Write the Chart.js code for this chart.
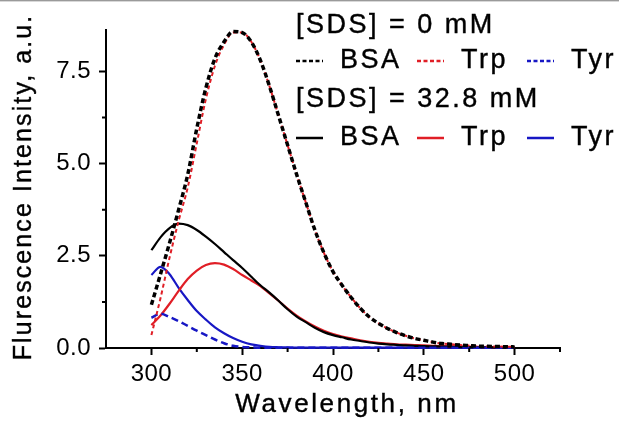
<!DOCTYPE html>
<html>
<head>
<meta charset="utf-8">
<script src="https://cdn.jsdelivr.net/npm/chart.js@4.4.1/dist/chart.umd.min.js"></script>
<style>
  html, body { margin: 0; padding: 0; background: #fff; }
  #wrap { position: relative; width: 619px; height: 425px; }
  #topline { position: absolute; left: 0; top: 0; width: 619px; height: 1px; background: #9a9a9a; border-bottom: 1px solid #d8d8d8; }
</style>
</head>
<body>
<div id="wrap">
  <canvas id="grafico" width="619" height="425"></canvas>
  <div id="topline"></div>
</div>
<script>
const wavelengths = [300, 305, 310, 315, 320, 325, 330, 335, 340, 345, 350, 355, 360, 365, 370, 375, 380, 385, 390, 395,
  400, 405, 410, 415, 420, 425, 430, 435, 440, 445, 450, 455, 460, 465, 470, 475, 480, 485, 490, 495, 500];

// [SDS] = 0 mM
const bsa0 = [1.17, 2.0, 2.85, 3.75, 4.7, 5.95, 7.05, 7.85, 8.3, 8.58, 8.55, 8.3, 7.8, 7.1, 6.3, 5.5, 4.7, 3.95, 3.2, 2.58,
  2.07, 1.7, 1.37, 1.08, 0.84, 0.67, 0.53, 0.42, 0.33, 0.26, 0.21, 0.16, 0.12, 0.1, 0.08, 0.065, 0.05, 0.045, 0.04, 0.035, 0.03];
const trp0 = [0.35, 1.35, 2.45, 3.45, 4.35, 5.55, 6.75, 7.65, 8.22, 8.55, 8.55, 8.3, 7.8, 7.1, 6.3, 5.5, 4.7, 3.95, 3.2, 2.58,
  2.07, 1.7, 1.37, 1.08, 0.84, 0.67, 0.53, 0.42, 0.33, 0.26, 0.21, 0.16, 0.12, 0.1, 0.08, 0.065, 0.05, 0.045, 0.04, 0.035, 0.03];
const tyr0 = [0.82, 0.93, 0.84, 0.73, 0.6, 0.47, 0.35, 0.23, 0.13, 0.06, 0.03, 0.02, 0.01, 0.01, 0.01, 0.01, 0.01, 0.01, 0.01, 0.01,
  0.01, 0.01, 0.01, 0.01, 0.01, 0.01, 0.01, 0.01, 0.01, 0.01, 0.01, 0.01, 0.01, 0.01, 0.01, 0.01, 0.01, 0.01, 0.01, 0.01, 0.01];

// [SDS] = 32.8 mM
const bsa1 = [2.65, 3.0, 3.25, 3.37, 3.33, 3.2, 3.02, 2.82, 2.6, 2.38, 2.17, 1.93, 1.7, 1.5, 1.28, 1.05, 0.85, 0.7, 0.55, 0.43,
  0.35, 0.29, 0.23, 0.19, 0.15, 0.12, 0.1, 0.085, 0.07, 0.06, 0.05, 0.045, 0.04, 0.035, 0.03, 0.025, 0.02, 0.02, 0.015, 0.01, 0.01];
const trp1 = [0.62, 0.88, 1.2, 1.55, 1.87, 2.1, 2.25, 2.3, 2.26, 2.14, 1.98, 1.83, 1.68, 1.48, 1.28, 1.07, 0.88, 0.72, 0.58, 0.47,
  0.38, 0.31, 0.26, 0.21, 0.17, 0.14, 0.12, 0.1, 0.09, 0.08, 0.07, 0.06, 0.05, 0.045, 0.04, 0.035, 0.03, 0.025, 0.02, 0.02, 0.02];
const tyr1 = [1.98, 2.2, 2.0, 1.63, 1.3, 1.0, 0.77, 0.56, 0.4, 0.27, 0.17, 0.1, 0.06, 0.03, 0.02, 0.015, 0.01, 0.01, 0.01, 0.01,
  0.01, 0.01, 0.01, 0.01, 0.01, 0.01, 0.01, 0.01, 0.01, 0.01, 0.01, 0.01, 0.01, 0.01, 0.01, 0.01, 0.01, 0.01, 0.01, 0.01, 0.01];

const groupTitles = ["[SDS] = 0 mM", "[SDS] = 32.8 mM"];
const seriesNames = ["BSA", "Trp", "Tyr"];
const xTitle = "Wavelength, nm";
const yTitle = "Flurescence Intensity, a.u.";
const xTicks = [300, 350, 400, 450, 500];
const xMinor = [325, 375, 425, 475, 525];
const yTicks = [0, 2.5, 5, 7.5];
const yMinor = [1.25, 3.75, 6.25];

const fonte = "'Liberation Sans', Arial, sans-serif";
const cores = ["#000000", "#e01e26", "#1717c4"];
const tracos = [[5, 3], [4, 3], [7, 4]];
const larguras = [3.5, 2, 2.5];

const pontos = arr => wavelengths.map((w, i) => ({ x: w, y: arr[i] }));

const datasets = [];
[[bsa0, trp0, tyr0], [bsa1, trp1, tyr1]].forEach((grupo, g) => {
  grupo.forEach((serie, k) => {
    datasets.push({
      label: seriesNames[k],
      grupo: g,
      data: pontos(serie),
      borderColor: cores[k],
      borderWidth: g === 0 ? larguras[k] : 2.2,
      borderDash: g === 0 ? tracos[k] : [],
      pointRadius: 0,
      fill: false,
      clip: 4,
      cubicInterpolationMode: "monotone"
    });
  });
});

// texto um pouco mais espaçado, como no original
function texto(ctx, str, x, y, tamanho, espaco) {
  ctx.font = tamanho + "px " + fonte;
  ctx.letterSpacing = espaco + "px";
  ctx.lineWidth = 0.4;
  ctx.strokeStyle = "#000";
  ctx.fillText(str, x, y);
  ctx.strokeText(str, x, y);
}

const espacamento = {
  id: "espacamento",
  beforeDraw(chart) { chart.ctx.letterSpacing = "0.5px"; }
};

const ticksMenores = {
  id: "ticksMenores",
  afterDraw(chart) {
    const { ctx, scales: { x, y }, chartArea: a } = chart;
    ctx.save();
    ctx.strokeStyle = "#000";
    ctx.lineWidth = 2;
    ctx.beginPath();
    xMinor.forEach(v => {
      const px = x.getPixelForValue(v);
      ctx.moveTo(px, a.bottom);
      ctx.lineTo(px, a.bottom + 4);
    });
    yMinor.forEach(v => {
      const py = y.getPixelForValue(v);
      ctx.moveTo(a.left, py);
      ctx.lineTo(a.left - 4, py);
    });
    ctx.stroke();
    ctx.restore();
  }
};

const titulos = {
  id: "titulos",
  afterDraw(chart) {
    const { ctx, chartArea: a } = chart;
    ctx.save();
    ctx.fillStyle = "#000";
    ctx.textAlign = "center";
    ctx.textBaseline = "middle";
    texto(ctx, xTitle, (a.left + a.right) / 2 + 14, 405, 26, 2.6);
    ctx.translate(24, (a.top + a.bottom) / 2 - 2);
    ctx.rotate(-Math.PI / 2);
    texto(ctx, yTitle, 0, 0, 25, 2.1);
    ctx.restore();
  }
};

const legendaSds = {
  id: "legendaSds",
  afterDraw(chart) {
    const ctx = chart.ctx;
    const linhas = [26, 61, 100, 138];
    const colX = [296, 417, 527];
    ctx.save();
    ctx.fillStyle = "#000";
    ctx.textBaseline = "middle";
    groupTitles.forEach((titulo, g) => {
      texto(ctx, titulo, colX[0], linhas[g * 2], 27, 2.5);
      const y = linhas[g * 2 + 1];
      chart.data.datasets.filter(d => d.grupo === g).forEach((d, k) => {
        ctx.beginPath();
        ctx.strokeStyle = d.borderColor;
        ctx.lineWidth = 2.5;
        ctx.setLineDash(g === 0 ? [4, 2.5] : []);
        ctx.moveTo(colX[k], y);
        ctx.lineTo(colX[k] + 27, y);
        ctx.stroke();
        ctx.setLineDash([]);
        texto(ctx, d.label, colX[k] + 44, y, 27, 2.5);
      });
    });
    ctx.restore();
  }
};

new Chart(document.getElementById("grafico").getContext("2d"), {
  type: "line",
  data: { datasets },
  plugins: [espacamento, ticksMenores, titulos, legendaSds],
  options: {
    responsive: false,
    animation: false,
    events: [],
    layout: { padding: { top: 30, right: 59, left: 0, bottom: 0 } },
    plugins: { legend: { display: false }, tooltip: { enabled: false } },
    scales: {
      x: {
        type: "linear",
        min: 275,
        max: 525,
        afterFit: s => { s.height = 77; },
        afterBuildTicks: s => { s.ticks = xTicks.map(v => ({ value: v })); },
        border: { color: "#000", width: 2 },
        grid: { drawOnChartArea: false, drawTicks: true, tickLength: 7, tickWidth: 2, tickColor: "#000" },
        ticks: { color: "#000", font: { size: 24, family: fonte }, padding: 5, maxRotation: 0 },
        title: { display: false }
      },
      y: {
        min: 0,
        max: 8.62,
        afterFit: s => { s.width = 106; },
        afterBuildTicks: s => { s.ticks = yTicks.map(v => ({ value: v })); },
        border: { color: "#000", width: 2 },
        grid: { drawOnChartArea: false, drawTicks: true, tickLength: 7, tickWidth: 2, tickColor: "#000" },
        ticks: { color: "#000", font: { size: 24, family: fonte }, padding: 8, callback: v => v.toFixed(1) },
        title: { display: false }
      }
    }
  }
});
</script>
</body>
</html>
